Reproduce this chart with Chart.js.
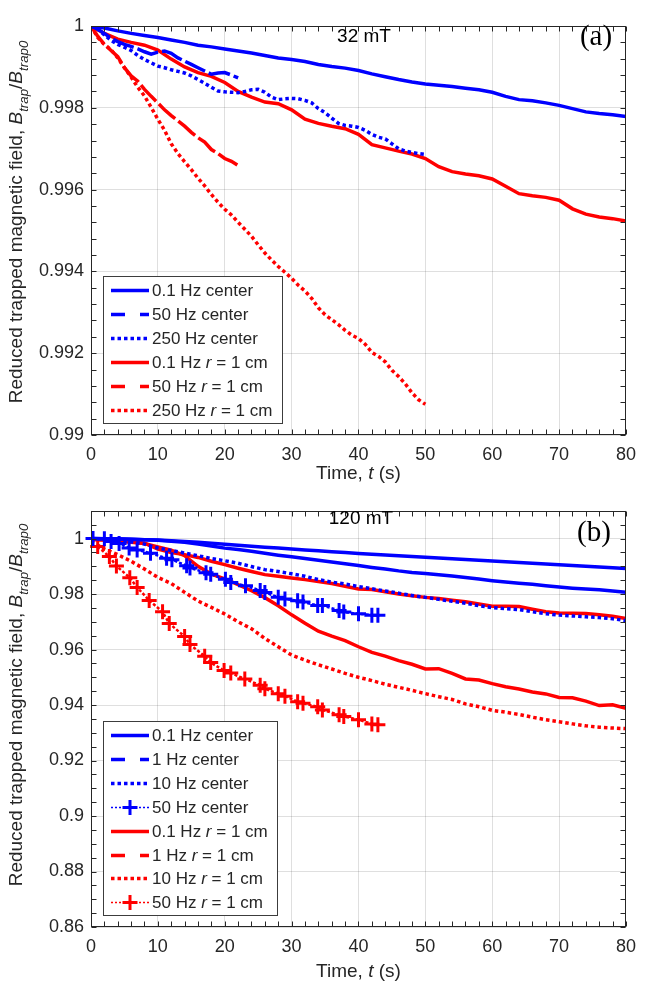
<!DOCTYPE html>
<html>
<head>
<meta charset="utf-8">
<title>Trapped field decay</title>
<script src="https://cdn.jsdelivr.net/npm/chart.js@4.4.1/dist/chart.umd.min.js"></script>
<style>
    body { margin: 0; background: #fff; }
    #page { position: relative; width: 645px; height: 987px; }
    #page canvas { position: absolute; left: 0; }
</style>
</head>
<body>
<div id="page">
    <canvas id="chartA" width="645" height="493" style="top:0"></canvas>
    <canvas id="chartB" width="645" height="494" style="top:493px"></canvas>
</div>
<script>
// Time bases (s)
var time80 = [0, 2, 4, 6, 8, 10, 12, 14, 16, 18, 20, 22, 24, 26, 28, 30, 32, 34, 36, 38, 40,
              42, 44, 46, 48, 50, 52, 54, 56, 58, 60, 62, 64, 66, 68, 70, 72, 74, 76, 78, 80];
var time50 = [0, 1, 2, 3, 4, 5, 6, 7, 8, 9, 10, 11, 12, 13, 14, 15, 16, 17, 18, 19, 20, 21, 22, 23, 24, 25,
              26, 27, 28, 29, 30, 31, 32, 33, 34, 35, 36, 37, 38, 39, 40, 41, 42, 43, 44, 45, 46, 47, 48, 49, 50];
var time22 = [0, 1, 2, 3, 4, 5, 6, 7, 8, 9, 10, 11, 12, 13, 14, 15, 16, 17, 18, 19, 20, 21, 22];

// Panel (a) - 32 mT
var a01Center = [1.0, 0.99995, 0.99988, 0.99982, 0.99977, 0.99972, 0.99966, 0.9996, 0.99953, 0.99949,
                 0.99944, 0.99939, 0.99934, 0.99928, 0.99922, 0.99918, 0.99913, 0.99906, 0.99901, 0.99897,
                 0.99891, 0.99883, 0.99876, 0.99869, 0.99863, 0.99858, 0.99855, 0.99852, 0.99848, 0.99844,
                 0.99838, 0.99828, 0.9982, 0.99817, 0.99812, 0.99806, 0.99798, 0.9979, 0.99786, 0.99783, 0.99779];
var a50Center = [1.0, 0.99992, 0.99982, 0.9997, 0.99962, 0.99955, 0.9995, 0.99944, 0.99937, 0.99931, 0.99936,
                 0.99939, 0.99933, 0.99922, 0.99914, 0.99906, 0.99898, 0.9989, 0.99882, 0.99885, 0.99886, 0.9988, 0.99873];
var a250Center = [1.0, 0.99993, 0.99978, 0.99965, 0.99955, 0.99948, 0.9994, 0.99928, 0.99918, 0.9991,
                  0.99902, 0.99898, 0.99893, 0.99889, 0.99885, 0.99878, 0.99869, 0.9986, 0.9985, 0.99841,
                  0.99839, 0.99838, 0.99837, 0.9984, 0.99844, 0.99845, 0.99838, 0.99826, 0.9982, 0.99822,
                  0.99823, 0.99822, 0.99818, 0.99812, 0.99798, 0.99788, 0.99775, 0.99762, 0.99757, 0.99755,
                  0.99752, 0.99745, 0.99735, 0.99728, 0.99724, 0.99712, 0.997, 0.99694, 0.99691, 0.99688, 0.99686];
var a01R = [1.0, 0.99982, 0.99968, 0.9996, 0.99953, 0.99941, 0.99919, 0.999, 0.99886, 0.99877,
            0.99862, 0.9984, 0.99826, 0.99814, 0.9981, 0.99795, 0.99772, 0.99762, 0.99755, 0.99749,
            0.99735, 0.9971, 0.99702, 0.99694, 0.99687, 0.99676, 0.99656, 0.99644, 0.99638, 0.99634,
            0.99626, 0.99608, 0.9959, 0.99585, 0.99581, 0.99574, 0.99553, 0.9954, 0.99533, 0.99529, 0.99523];
var a50R = [1.0, 0.99975, 0.99955, 0.9994, 0.99925, 0.99898, 0.99878, 0.99865, 0.99845, 0.99828, 0.99812,
            0.99795, 0.99781, 0.99768, 0.99755, 0.9974, 0.99727, 0.99716, 0.99698, 0.99688, 0.99676, 0.99669, 0.99659];
var a250R = [1.0, 0.99972, 0.99955, 0.99942, 0.99922, 0.99898, 0.99875, 0.9985, 0.99829, 0.99801,
             0.99772, 0.99745, 0.99712, 0.99688, 0.99668, 0.99649, 0.99628, 0.99609, 0.99588, 0.99569,
             0.99552, 0.99538, 0.9952, 0.99503, 0.99486, 0.99465, 0.99445, 0.99428, 0.99412, 0.99398,
             0.99383, 0.99366, 0.99352, 0.99334, 0.99311, 0.99294, 0.99282, 0.9927, 0.99256, 0.99244,
             0.99236, 0.99222, 0.99202, 0.99192, 0.99179, 0.99158, 0.99143, 0.99125, 0.99103, 0.99086, 0.99075];

// Panel (b) - 120 mT
var b01Center = [1.0, 0.99995, 0.9999, 0.99975, 0.9996, 0.99945, 0.9992, 0.99895, 0.99865, 0.99835,
                 0.99795, 0.9976, 0.99725, 0.9969, 0.99655, 0.99622, 0.9959, 0.99558, 0.99525, 0.99495,
                 0.99462, 0.99436, 0.9941, 0.99382, 0.99355, 0.99328, 0.993, 0.99273, 0.99245, 0.99218,
                 0.9919, 0.99163, 0.99136, 0.99108, 0.9908, 0.99053, 0.99027, 0.99, 0.98973, 0.98946, 0.9892];
var b1Center = [1.0, 0.99993, 0.99985, 0.99975, 0.9996, 0.9994, 0.99905, 0.99865, 0.99805, 0.9973,
                0.99655, 0.99605, 0.9954, 0.9947, 0.994, 0.9934, 0.9928, 0.99215, 0.99155, 0.9909,
                0.99025, 0.9896, 0.98905, 0.98835, 0.9878, 0.9874, 0.98695, 0.9865, 0.98595, 0.9854,
                0.9848, 0.9843, 0.9839, 0.9835, 0.983, 0.9825, 0.9821, 0.9818, 0.98155, 0.9811, 0.9806];
var b10Center = [1.0, 0.99985, 0.99955, 0.9988, 0.998, 0.9966, 0.9957, 0.99475, 0.9938, 0.9928,
                 0.992, 0.9911, 0.9899, 0.9888, 0.9881, 0.9873, 0.9864, 0.9852, 0.9843, 0.9836,
                 0.9827, 0.9819, 0.9811, 0.9803, 0.9795, 0.9788, 0.9781, 0.9774, 0.9767, 0.9758,
                 0.9751, 0.9747, 0.9744, 0.9736, 0.9729, 0.9724, 0.9721, 0.9718, 0.9715, 0.9711, 0.9704];
var time50Center = [0.3, 2.0, 3.0, 4.2, 5.7, 6.9, 8.9, 11.3, 12.1, 14.3, 14.8, 17.2, 17.9, 20.1, 20.9,
                    23.1, 25.3, 26.0, 28.0, 29.0, 30.9, 31.7, 33.9, 34.6, 37.1, 37.8, 40.0, 42.0, 42.9];
var b50Center = [1.0, 0.99995, 0.9989, 0.9982, 0.9966, 0.9959, 0.9947, 0.9929, 0.9924, 0.9902, 0.9894,
                 0.9877, 0.9871, 0.9853, 0.9842, 0.983, 0.9813, 0.9806, 0.9788, 0.9782, 0.9776, 0.9771,
                 0.9759, 0.9759, 0.9741, 0.9735, 0.9729, 0.9724, 0.9724];
var b01R = [0.9998, 0.9995, 0.9991, 0.9988, 0.9983, 0.9962, 0.995, 0.9942, 0.9932, 0.9918,
            0.9906, 0.9893, 0.9881, 0.987, 0.9864, 0.9858, 0.9852, 0.9845, 0.9838, 0.9828,
            0.9818, 0.9816, 0.9808, 0.98, 0.9794, 0.9788, 0.9784, 0.9778, 0.9772, 0.9764,
            0.9756, 0.9756, 0.9755, 0.9745, 0.9736, 0.9732, 0.9731, 0.973, 0.9725, 0.972, 0.9712];
var b1R = [0.9997, 0.9995, 0.9992, 0.9987, 0.9982, 0.997, 0.9958, 0.9938, 0.99, 0.9872,
           0.9855, 0.9834, 0.9812, 0.9787, 0.9758, 0.9725, 0.9695, 0.9666, 0.9648, 0.9632,
           0.961, 0.959, 0.9576, 0.956, 0.9547, 0.953, 0.9531, 0.9514, 0.9494, 0.949,
           0.9477, 0.9466, 0.9458, 0.9447, 0.944, 0.9427, 0.9426, 0.9414, 0.9398, 0.9401, 0.9388];
var b10R = [0.999, 0.9962, 0.9942, 0.9918, 0.989, 0.986, 0.9838, 0.9806, 0.9775, 0.9752,
            0.9728, 0.97, 0.9675, 0.964, 0.961, 0.958, 0.9562, 0.9545, 0.953, 0.9514,
            0.95, 0.9488, 0.9475, 0.9464, 0.9453, 0.9441, 0.943, 0.942, 0.9404, 0.9394,
            0.9381, 0.9374, 0.9366, 0.9356, 0.9347, 0.934, 0.9332, 0.9325, 0.932, 0.9317, 0.9315];
var time50R = [1.0, 2.75, 3.8, 5.8, 6.9, 8.7, 10.7, 11.7, 14.0, 14.8, 17.0, 17.9, 19.9, 20.9,
               23.0, 25.3, 26.0, 28.0, 29.0, 30.9, 31.7, 33.9, 34.6, 37.1, 37.8, 40.0, 42.0, 42.9];
var b50R = [0.9971, 0.9935, 0.9901, 0.9859, 0.9824, 0.9777, 0.9736, 0.9694, 0.9647, 0.9618, 0.9576,
            0.9553, 0.9524, 0.9515, 0.9494, 0.9471, 0.9459, 0.9441, 0.9432, 0.9412, 0.9406, 0.9394,
            0.9382, 0.9365, 0.9359, 0.9347, 0.9332, 0.9329];

// Legend texts (*...* = italic)
var legendA = ['0.1 Hz center', '50 Hz center', '250 Hz center',
               '0.1 Hz *r* = 1 cm', '50 Hz *r* = 1 cm', '250 Hz *r* = 1 cm'];
var legendB = ['0.1 Hz center', '1 Hz center', '10 Hz center', '50 Hz center',
               '0.1 Hz *r* = 1 cm', '1 Hz *r* = 1 cm', '10 Hz *r* = 1 cm', '50 Hz *r* = 1 cm'];

// Tick labels
var xTicks = [0, 10, 20, 30, 40, 50, 60, 70, 80];
var yTicksA = [0.99, 0.992, 0.994, 0.996, 0.998, 1];
var yTicksB = [0.86, 0.88, 0.9, 0.92, 0.94, 0.96, 0.98, 1];

var FONT = "'Liberation Sans', Arial, Helvetica, sans-serif";
var SERIF = "'Liberation Serif', 'Times New Roman', serif";
var AXIS_COLOR = '#262626';
var GRID_COLOR = 'rgba(38,38,38,0.15)';
var BLUE = '#0000ff';
var RED = '#ff0000';

function pairs(times, values) {
    return times.map(function(t, i) { return { x: t, y: values[i] }; });
}

function series(label, times, values, color, kind, dash) {
    var ds = {
        label: label, data: pairs(times, values), kind: kind,
        borderColor: color, backgroundColor: color, borderWidth: 3.5,
        pointRadius: 0, fill: false, tension: 0, borderCapStyle: 'butt'
    };
    if (kind === 'dash') ds.borderDash = dash || [];
    if (kind === 'dot') ds.borderDash = [3.5, 3];
    if (kind === 'cross') {
        ds.borderDash = [3, 2];
        ds.borderWidth = 2.5;
        ds.pointStyle = 'cross';
        ds.pointRadius = 7.5;
        ds.pointBorderWidth = 3;
        ds.clip = 12;
    }
    return ds;
}

// text made of parts: [text, style] with style 0 normal, 1 italic, 2 italic subscript
function richWidth(ctx, parts, size) {
    var w = 0;
    parts.forEach(function(p) {
        ctx.font = (p[1] ? 'italic ' : '') + (p[1] === 2 ? size * 0.7 : size) + 'px ' + FONT;
        w += ctx.measureText(p[0]).width;
    });
    return w;
}

function drawRich(ctx, parts, x, y, size) {
    parts.forEach(function(p) {
        ctx.font = (p[1] ? 'italic ' : '') + (p[1] === 2 ? size * 0.7 : size) + 'px ' + FONT;
        ctx.fillText(p[0], x, p[1] === 2 ? y + size * 0.3 : y);
        x += ctx.measureText(p[0]).width;
    });
}

function legendParts(text) {
    return text.split('*').map(function(s, i) { return [s, i % 2]; });
}

// MATLAB look: box, inward ticks, legend, annotations and axis titles
var matlabAxes = {
    id: 'matlabAxes',
    afterDatasetsDraw: function(chart, args, o) {
        var ctx = chart.ctx, a = chart.chartArea, xs = chart.scales.x, ys = chart.scales.y;
        var L = Math.round(a.left) + 0.5, R = Math.round(a.right) - 0.5;
        var T = Math.round(a.top) + 0.5, B = Math.round(a.bottom) - 0.5;
        ctx.save();
        ctx.setLineDash([]);
        ctx.strokeStyle = AXIS_COLOR;
        ctx.lineWidth = 1;
        ctx.strokeRect(L, T, R - L, B - T);

        // ticks, all pointing into the box
        ctx.beginPath();
        for (var i = 0; i <= 40; i++) {
            var px = Math.round(xs.getPixelForValue(i * 2)) + 0.5;
            ctx.moveTo(px, B); ctx.lineTo(px, B - 5);
            ctx.moveTo(px, T); ctx.lineTo(px, T + 5);
        }
        var n = Math.round((ys.max - ys.min) / o.yMinor);
        for (var j = 0; j <= n; j++) {
            var py = Math.round(ys.getPixelForValue(ys.min + j * o.yMinor)) + 0.5;
            ctx.moveTo(L, py); ctx.lineTo(L + 5, py);
            ctx.moveTo(R, py); ctx.lineTo(R - 5, py);
        }
        ctx.stroke();

        // legend
        var lg = o.legend;
        ctx.fillStyle = '#fff';
        ctx.fillRect(lg.x, lg.y, lg.w, lg.h);
        ctx.strokeStyle = '#3c3c3c';
        ctx.strokeRect(lg.x + 0.5, lg.y + 0.5, lg.w, lg.h);
        chart.data.datasets.forEach(function(ds, k) {
            var yy = Math.round(lg.row0 + k * lg.step) + 0.5;
            ctx.strokeStyle = ds.borderColor;
            ctx.lineCap = 'butt';
            ctx.lineWidth = 3.5;
            if (ds.kind === 'dash') ctx.setLineDash([14, 15]);
            else if (ds.kind === 'dot') ctx.setLineDash([3.5, 3]);
            else if (ds.kind === 'cross') { ctx.setLineDash([2, 2]); ctx.lineWidth = 1.5; }
            else ctx.setLineDash([]);
            ctx.beginPath();
            ctx.moveTo(lg.x + 8, yy);
            ctx.lineTo(lg.x + 46, yy);
            ctx.stroke();
            if (ds.kind === 'cross') {
                var cx = lg.x + 27;
                ctx.setLineDash([]);
                ctx.lineWidth = 3;
                ctx.beginPath();
                ctx.moveTo(cx - 7.5, yy); ctx.lineTo(cx + 7.5, yy);
                ctx.moveTo(cx, yy - 7.5); ctx.lineTo(cx, yy + 7.5);
                ctx.stroke();
            }
            ctx.fillStyle = AXIS_COLOR;
            ctx.textBaseline = 'middle';
            ctx.textAlign = 'left';
            drawRich(ctx, legendParts(lg.labels[k]), lg.x + 49, yy + 1, 17);
        });
        ctx.setLineDash([]);

        // field label and panel tag
        ctx.fillStyle = '#000';
        ctx.textAlign = 'center';
        ctx.textBaseline = 'middle';
        ctx.font = '19px ' + FONT;
        ctx.fillText(o.field, o.fieldPos[0], o.fieldPos[1]);
        ctx.font = '29px ' + SERIF;
        ctx.fillText(o.tag, o.tagPos[0], o.tagPos[1]);

        // axis titles
        ctx.fillStyle = AXIS_COLOR;
        ctx.textAlign = 'left';
        ctx.textBaseline = 'alphabetic';
        var xt = [['Time, ', 0], ['t', 1], [' (s)', 0]];
        drawRich(ctx, xt, (a.left + a.right) / 2 - richWidth(ctx, xt, 19) / 2, o.xTitleY, 19);
        var yt = [['Reduced trapped magnetic field, ', 0], ['B', 1], ['trap', 2], ['/', 0], ['B', 1], ['trap0', 2]];
        ctx.translate(o.yTitleX, o.yTitleY);
        ctx.rotate(-Math.PI / 2);
        drawRich(ctx, yt, -richWidth(ctx, yt, 19) / 2, 0, 19);
        ctx.restore();
    }
};

function makeChart(id, datasets, cfg) {
    return new Chart(document.getElementById(id), {
        type: 'line',
        data: { datasets: datasets },
        options: {
            responsive: false,
            animation: false,
            events: [],
            layout: { padding: { top: cfg.top, right: 9, left: 0, bottom: 0 } },
            plugins: { legend: { display: false }, tooltip: { enabled: false }, matlabAxes: cfg.deco },
            scales: {
                x: {
                    type: 'linear', min: 0, max: 80,
                    afterBuildTicks: function(s) { s.ticks = xTicks.map(function(v) { return { value: v }; }); },
                    afterFit: function(s) { s.height = cfg.xHeight; },
                    grid: { color: GRID_COLOR, drawTicks: false },
                    border: { display: false },
                    ticks: { padding: 9, autoSkip: false, maxRotation: 0, color: AXIS_COLOR,
                             font: { size: 18, family: FONT },
                             callback: function(v) { return String(v); } }
                },
                y: {
                    type: 'linear', min: cfg.yMin, max: cfg.yMax,
                    afterBuildTicks: function(s) { s.ticks = cfg.yTicks.map(function(v) { return { value: v }; }); },
                    afterFit: function(s) { s.width = 91; },
                    grid: { color: GRID_COLOR, drawTicks: false },
                    border: { display: false },
                    ticks: { padding: 7, autoSkip: false, color: AXIS_COLOR,
                             font: { size: 18, family: FONT },
                             callback: function(v) { return String(+v.toFixed(4)); } }
                }
            }
        },
        plugins: [matlabAxes]
    });
}

makeChart('chartA', [
    series(legendA[0], time80, a01Center, BLUE, 'solid'),
    series(legendA[1], time22, a50Center, BLUE, 'dash', [22, 4]),
    series(legendA[2], time50, a250Center, BLUE, 'dot'),
    series(legendA[3], time80, a01R, RED, 'solid'),
    series(legendA[4], time22, a50R, RED, 'dash', [22, 4]),
    series(legendA[5], time50, a250R, RED, 'dot')
], {
    top: 26, xHeight: 58, yMin: 0.99, yMax: 1, yTicks: yTicksA,
    deco: {
        yMinor: 0.0004, field: '32 mT', fieldPos: [364, 37], tag: '(a)', tagPos: [596, 37],
        xTitleY: 479, yTitleX: 22, yTitleY: 222,
        legend: { x: 103, y: 276, w: 179, h: 147, row0: 290, step: 24, labels: legendA }
    }
});

makeChart('chartB', [
    series(legendB[0], time80, b01Center, BLUE, 'solid'),
    series(legendB[1], time80, b1Center, BLUE, 'dash'),
    series(legendB[2], time80, b10Center, BLUE, 'dot'),
    series(legendB[3], time50Center, b50Center, BLUE, 'cross'),
    series(legendB[4], time80, b01R, RED, 'solid'),
    series(legendB[5], time80, b1R, RED, 'dash'),
    series(legendB[6], time80, b10R, RED, 'dot'),
    series(legendB[7], time50R, b50R, RED, 'cross')
], {
    top: 10, xHeight: 60, yMin: 0.86, yMax: 1.01, yTicks: yTicksB,
    deco: {
        yMinor: 0.005, field: '120 mT', fieldPos: [361, 26], tag: '(b)', tagPos: [594, 40],
        xTitleY: 484, yTitleX: 22, yTitleY: 212,
        legend: { x: 103, y: 228, w: 174, h: 194, row0: 242, step: 23.9, labels: legendB }
    }
});
</script>
</body>
</html>
